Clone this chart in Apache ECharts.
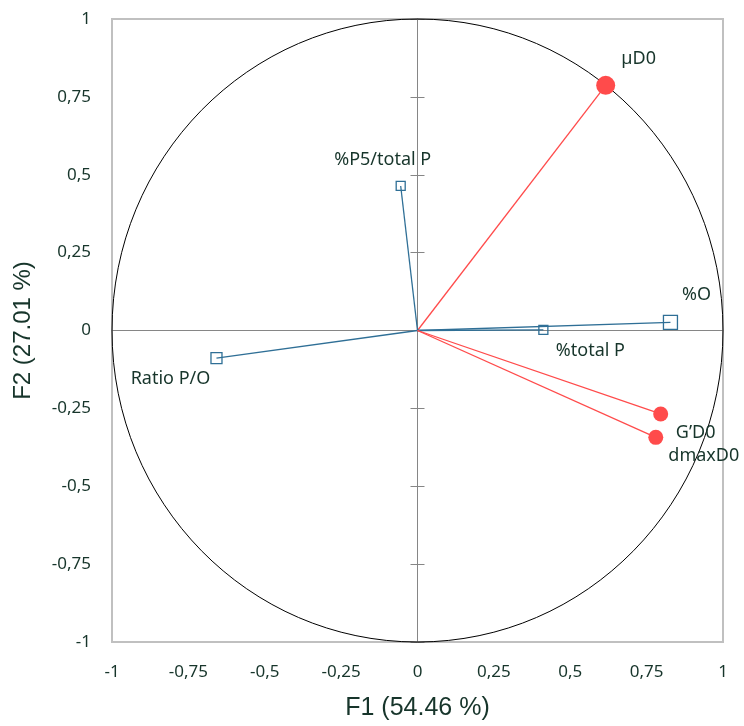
<!DOCTYPE html>
<html>
<head>
<meta charset="utf-8">
<script src="https://cdn.jsdelivr.net/npm/echarts@6/dist/echarts.min.js"></script>
<style>html,body{margin:0;padding:0;background:#fff;}#c{width:744px;height:726px;}</style>
</head>
<body>
<div id="c"></div>
<script>
// ---- data ----
const varNames   = ['µD0', '%P5/total P', '%O', '%total P', 'Ratio P/O', 'G\u2019D0', 'dmaxD0'];
const f1Values   = [0.616, -0.055, 0.828, 0.412, -0.658, 0.796, 0.780];
const f2Values   = [0.787, 0.464, 0.026, 0.002, -0.089, -0.268, -0.343];
const varGroup   = ['active', 'supp', 'supp', 'supp', 'supp', 'active', 'active'];
const markerSize = [19, 9, 14, 9, 11, 15, 15];
const labelOffset = [[33, -26], [-18, -26], [26, -28], [47, 21], [-46, 21], [35, 19], [48, 19]];
const tickValues = [-1, -0.75, -0.5, -0.25, 0, 0.25, 0.5, 0.75, 1];
const tickLabels = ['-1', '-0,75', '-0,5', '-0,25', '0', '0,25', '0,5', '0,75', '1'];
const circleCenter = [0, 0];
const circleRadius = 1;
const xTitle = 'F1 (54.46 %)';
const yTitle = 'F2 (27.01 %)';

const textColor = '#17352b';
const blue = '#2f6f96';
const red = '#ff4b4b';

function fmt(v) {
  const i = tickValues.findIndex(t => Math.abs(t - v) < 1e-6);
  return i >= 0 ? tickLabels[i] : '';
}

const series = [];
series.push({
  type: 'custom',
  silent: true,
  z: 1,
  data: [[circleCenter[0], circleCenter[1], circleRadius]],
  renderItem: function (params, api) {
    const c = api.coord([api.value(0), api.value(1)]);
    const s = api.size([api.value(2), api.value(2)]);
    return {
      type: 'ellipse',
      shape: { cx: c[0], cy: c[1], rx: s[0], ry: s[1] },
      style: { fill: 'none', stroke: '#000', lineWidth: 1 }
    };
  }
});

varNames.forEach((name, i) => {
  const isActive = varGroup[i] === 'active';
  const col = isActive ? red : blue;
  series.push({
    type: 'line',
    name: name,
    z: 3,
    silent: true,
    lineStyle: { color: col, width: 1.3 },
    data: [
      { value: [0, 0], symbol: 'none', label: { show: false } },
      {
        value: [f1Values[i], f2Values[i]],
        symbol: isActive ? 'circle' : 'rect',
        symbolSize: markerSize[i],
        itemStyle: isActive
          ? { color: red, borderWidth: 0 }
          : { color: 'rgba(255,255,255,0)', borderColor: blue, borderWidth: 1.3 },
        label: {
          show: true,
          position: 'inside',
          offset: labelOffset[i],
          formatter: name,
          color: textColor,
          fontFamily: 'Noto Sans',
          fontSize: 18
        }
      }
    ]
  });
});

const axisCommon = {
  type: 'value', min: -1, max: 1, interval: 0.25,
  splitLine: { show: false }
};

const option = {
  animation: false,
  backgroundColor: '#fff',
  grid: {
    left: 112, right: 21, top: 19, bottom: 80,
    show: true, borderColor: '#c0c0c0', borderWidth: 2, backgroundColor: 'transparent'
  },
  xAxis: [
    Object.assign({}, axisCommon, {
      position: 'bottom',
      axisLine: { show: false, onZero: false },
      axisTick: { show: false },
      axisLabel: { formatter: fmt, color: textColor, fontFamily: 'Noto Sans', fontSize: 17, margin: 22 },
      name: xTitle, nameLocation: 'middle', nameGap: 54,
      nameTextStyle: { color: textColor, fontFamily: 'Liberation Sans', fontSize: 25 }
    }),
    Object.assign({}, axisCommon, {
      position: 'bottom',
      axisLine: { show: true, onZero: true, lineStyle: { color: '#868686', width: 1 } },
      axisTick: { show: false },
      axisLabel: { show: false }
    })
  ],
  yAxis: [
    Object.assign({}, axisCommon, {
      position: 'left',
      axisLine: { show: false, onZero: false },
      axisTick: { show: false },
      axisLabel: { formatter: fmt, color: textColor, fontFamily: 'Noto Sans', fontSize: 17, margin: 21 },
      name: yTitle, nameLocation: 'middle', nameGap: 77,
      nameTextStyle: { color: textColor, fontFamily: 'Liberation Sans', fontSize: 24 }
    }),
    Object.assign({}, axisCommon, {
      position: 'left',
      axisLine: { show: true, onZero: true, lineStyle: { color: '#868686', width: 1 } },
      axisTick: { show: true, length: 7, lineStyle: { color: '#868686', width: 1 } },
      axisLabel: { show: false }
    }),
    Object.assign({}, axisCommon, {
      position: 'right',
      axisLine: { show: true, onZero: true, lineStyle: { color: '#868686', width: 1 } },
      axisTick: { show: true, length: 7, lineStyle: { color: '#868686', width: 1 } },
      axisLabel: { show: false }
    })
  ],
  series: series
};

const chart = echarts.init(document.getElementById('c'), null, { renderer: 'canvas' });
chart.setOption(option);
</script>
</body>
</html>
